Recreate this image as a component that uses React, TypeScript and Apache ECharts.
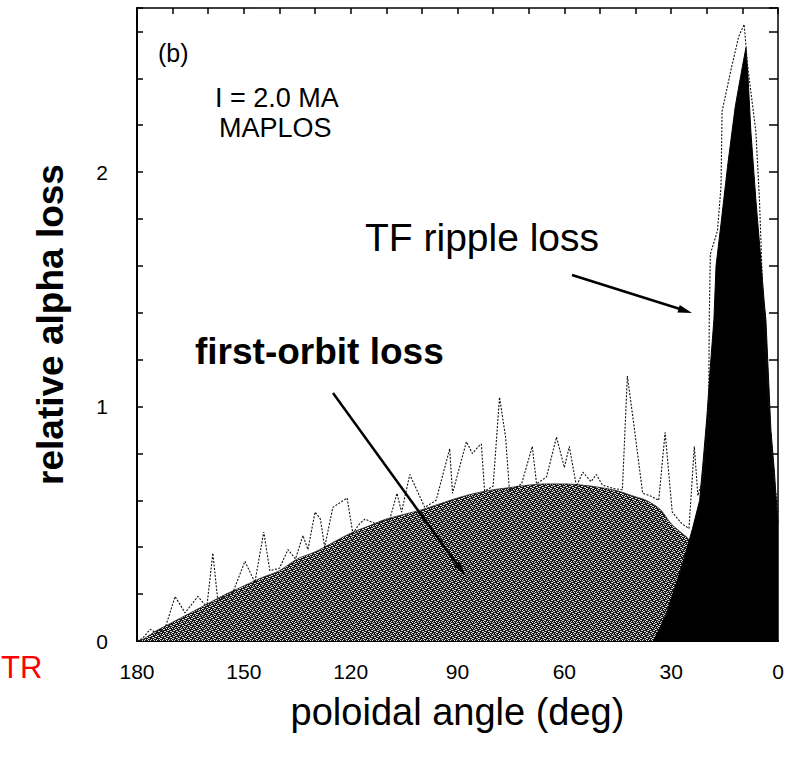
import React, { useEffect, useRef } from 'react';
import * as echarts from 'echarts';

const xTickLabels = ['180', '150', '120', '90', '60', '30', '0'];
const yTickLabels = ['0', '1', '2'];

// first-orbit loss (smooth shaded dome)
const domeAngles = [180, 178, 175, 170, 165, 160, 155, 150, 145, 140, 135, 130, 125, 120, 115, 110, 105, 100, 95, 90, 85, 80, 75, 70, 65, 60, 55, 50, 45, 40, 37, 33, 30, 27, 25, 24, 23, 22.5];
const domeValues = [0, 0.01, 0.04, 0.08, 0.12, 0.16, 0.2, 0.235, 0.27, 0.3, 0.35, 0.38, 0.42, 0.46, 0.49, 0.52, 0.54, 0.56, 0.585, 0.61, 0.63, 0.645, 0.655, 0.665, 0.67, 0.67, 0.665, 0.655, 0.64, 0.615, 0.6, 0.56, 0.5, 0.46, 0.43, 0.3, 0.1, 0];

// noisy Monte-Carlo result (dotted line)
const noiseAngles = [180, 178.5, 176.3, 174, 172, 169.3, 166.5, 162.9, 160.4, 158.7, 157.3, 153, 149.7, 146.9, 144.4, 142.7, 140, 137.6, 135.5, 133.4, 132, 130, 128.5, 127.3, 125, 121, 119.4, 117.5, 116, 113, 109, 107, 105.7, 103.4, 99.2, 96, 92.2, 91.4, 87.5, 85.8, 83.8, 83.3, 82.4, 80, 78.2, 76.5, 75.4, 72, 69, 67.8, 65, 62.2, 60, 58.6, 56.6, 54.8, 52.5, 51, 49.3, 46, 43.7, 42.3, 40.8, 38, 36, 33.5, 31.7, 29.7, 27, 25, 23.5, 22.5, 21, 19.5, 19.3, 19, 17, 16, 15.7, 13, 11, 9.5, 8.5, 6.2, 5.2, 4.2, 3, 1.5, 0];
const noiseValues = [0, 0.01, 0.05, 0.03, 0.06, 0.19, 0.12, 0.19, 0.145, 0.375, 0.17, 0.21, 0.34, 0.25, 0.465, 0.3, 0.31, 0.39, 0.35, 0.45, 0.39, 0.55, 0.52, 0.4, 0.57, 0.61, 0.46, 0.5, 0.52, 0.5, 0.52, 0.63, 0.55, 0.71, 0.57, 0.6, 0.82, 0.63, 0.85, 0.8, 0.835, 0.84, 0.64, 0.66, 1.04, 0.87, 0.64, 0.67, 0.83, 0.67, 0.7, 0.87, 0.74, 0.83, 0.66, 0.72, 0.68, 0.71, 0.665, 0.65, 0.645, 1.13, 0.96, 0.63, 0.62, 0.6, 0.89, 0.55, 0.5, 0.48, 0.83, 0.62, 0.7, 0.94, 1.37, 1.65, 1.75, 1.94, 2.26, 2.45, 2.58, 2.63, 2.45, 2.17, 1.88, 1.45, 1.1, 0.75, 0.55];

// TF ripple loss (black peak)
const tfAngles = [35, 33, 31, 30, 28, 26, 24, 22, 21, 20, 19, 18, 17.4, 16, 14.2, 13.7, 12, 10, 9, 8.4, 7.6, 6.2, 5, 3.9, 3.4, 2, 1, 0.5, 0];
const tfValues = [0, 0.06, 0.13, 0.18, 0.27, 0.37, 0.48, 0.6, 0.77, 0.95, 1.17, 1.37, 1.6, 1.78, 2.02, 2.08, 2.28, 2.45, 2.53, 2.4, 2.17, 1.88, 1.66, 1.45, 1.37, 0.9, 0.72, 0.6, 0.5];

const FONT = '"Liberation Sans", Arial, Helvetica, sans-serif';

function pairs(a: number[], b: number[]) {
  return a.map((x, i) => [x, b[i]]);
}

function makeStipple(): any {
  // small deterministic halftone tile imitating the printed stipple shading
  const c = document.createElement('canvas');
  c.width = 6;
  c.height = 6;
  const g = c.getContext('2d')!;
  g.fillStyle = '#1a1a1a';
  g.fillRect(0, 0, 6, 6);
  g.fillStyle = '#dcdcdc';
  const whites = [[0, 0], [3, 1], [1, 3], [4, 4], [2, 5], [5, 2], [0, 4], [2, 1], [5, 0], [3, 3], [1, 5], [4, 2]];
  whites.forEach(([x, y]) => g.fillRect(x, y, 1, 1));
  return { image: c, repeat: 'repeat' };
}

export default function App() {
  const ref = useRef<HTMLDivElement>(null);
  useEffect(() => {
    document.body.style.margin = '0';
    const chart = echarts.init(ref.current!, null, { renderer: 'svg' });
    const isInt = (v: number) => Math.abs(v - Math.round(v)) < 1e-6;
    const option: any = {
      animation: false,
      backgroundColor: '#ffffff',
      grid: { left: 137, right: 17, top: 8, bottom: 116 },
      xAxis: [
        {
          type: 'value', min: 0, max: 180, interval: 30, inverse: true, position: 'bottom',
          name: 'poloidal angle (deg)', nameLocation: 'middle', nameGap: 71,
          nameTextStyle: { fontFamily: FONT, fontSize: 38, color: '#000', verticalAlign: 'middle' },
          axisLine: { show: true, onZero: false, lineStyle: { color: '#000', width: 2 } },
          axisTick: { show: false },
          splitLine: { show: false },
          axisLabel: {
            fontFamily: FONT, fontSize: 21, color: '#000', margin: 20,
            formatter: (v: number) => (xTickLabels.includes(String(Math.round(v))) && isInt(v / 30) ? String(Math.round(v)) : ''),
          },
        },
        {
          type: 'value', min: 0, max: 180, interval: 10, inverse: true, position: 'top',
          axisLine: { show: true, onZero: false, lineStyle: { color: '#000', width: 1.5 } },
          axisTick: { show: true, inside: true, length: 6, lineStyle: { color: '#000', width: 1.5 } },
          axisLabel: { show: false },
          splitLine: { show: false },
        },
      ],
      yAxis: [
        {
          type: 'value', min: 0, max: 2.7, interval: 0.2, position: 'left',
          name: 'relative alpha loss', nameLocation: 'middle', nameGap: 87,
          nameTextStyle: { fontFamily: FONT, fontSize: 37, fontWeight: 'bold', color: '#000', verticalAlign: 'middle' },
          axisLine: { show: true, onZero: false, lineStyle: { color: '#000', width: 2 } },
          axisTick: { show: true, inside: true, length: 6, lineStyle: { color: '#000', width: 1.5 } },
          splitLine: { show: false },
          axisLabel: {
            fontFamily: FONT, fontSize: 21, color: '#000', margin: 29,
            formatter: (v: number) => (isInt(v) && yTickLabels.includes(String(Math.round(v))) ? String(Math.round(v)) : ''),
          },
        },
        {
          type: 'value', min: 0, max: 2.7, interval: 0.2, position: 'right',
          axisLine: { show: true, onZero: false, lineStyle: { color: '#000', width: 1.5 } },
          axisTick: { show: true, inside: true, length: 9, lineStyle: { color: '#000', width: 1.5 } },
          axisLabel: { show: false },
          splitLine: { show: false },
        },
      ],
      series: [
        {
          name: 'first-orbit loss', type: 'line', xAxisIndex: 0, yAxisIndex: 0,
          data: pairs(domeAngles, domeValues), smooth: 0.3, showSymbol: false, z: 2,
          lineStyle: { color: '#222', width: 0.8 },
          areaStyle: { color: makeStipple(), opacity: 1 },
        },
        {
          name: 'TF ripple loss', type: 'line', xAxisIndex: 0, yAxisIndex: 0,
          data: pairs(tfAngles, tfValues), showSymbol: false, z: 3,
          lineStyle: { color: '#000', width: 1 },
          areaStyle: { color: '#000', opacity: 1 },
        },
        {
          name: 'simulation', type: 'line', xAxisIndex: 0, yAxisIndex: 0,
          data: pairs(noiseAngles, noiseValues), showSymbol: false, z: 4,
          lineStyle: { color: '#111', width: 1.1, type: [2, 1.5] },
        },
      ],
      graphic: [
        { type: 'text', left: 158, top: 40, style: { text: '(b)', font: `25px ${FONT}`, fill: '#000' } },
        { type: 'text', x: 215, y: 98, style: { text: 'I = 2.0 MA', font: `27px ${FONT}`, fill: '#000', verticalAlign: 'middle' } },
        { type: 'text', x: 219, y: 128, style: { text: 'MAPLOS', font: `27px ${FONT}`, fill: '#000', verticalAlign: 'middle' } },
        { type: 'text', x: 365, y: 237, style: { text: 'TF ripple loss', font: `39px ${FONT}`, fill: '#000', verticalAlign: 'middle' } },
        { type: 'text', x: 195, y: 351, style: { text: 'first-orbit loss', font: `bold 37px ${FONT}`, fill: '#000', verticalAlign: 'middle' } },
        { type: 'text', x: 1, y: 667, style: { text: 'TR', font: `31px ${FONT}`, fill: '#ff0000', align: 'left', verticalAlign: 'middle' } },
        { type: 'line', shape: { x1: 572, y1: 275, x2: 680, y2: 309 }, style: { stroke: '#000', lineWidth: 2.5 }, z: 10 },
        { type: 'polygon', shape: { points: [[692, 313], [677.4, 312.6], [679.8, 305]] }, style: { fill: '#000' }, z: 10 },
        { type: 'line', shape: { x1: 333, y1: 393, x2: 459, y2: 567 }, style: { stroke: '#000', lineWidth: 2.5 }, z: 10 },
        { type: 'polygon', shape: { points: [[465, 575], [453.6, 566], [460, 561.4]] }, style: { fill: '#000' }, z: 10 },
      ],
    };
    chart.setOption(option);
    return () => chart.dispose();
  }, []);
  return <div ref={ref} style={{ width: 795, height: 757 }} />;
}
